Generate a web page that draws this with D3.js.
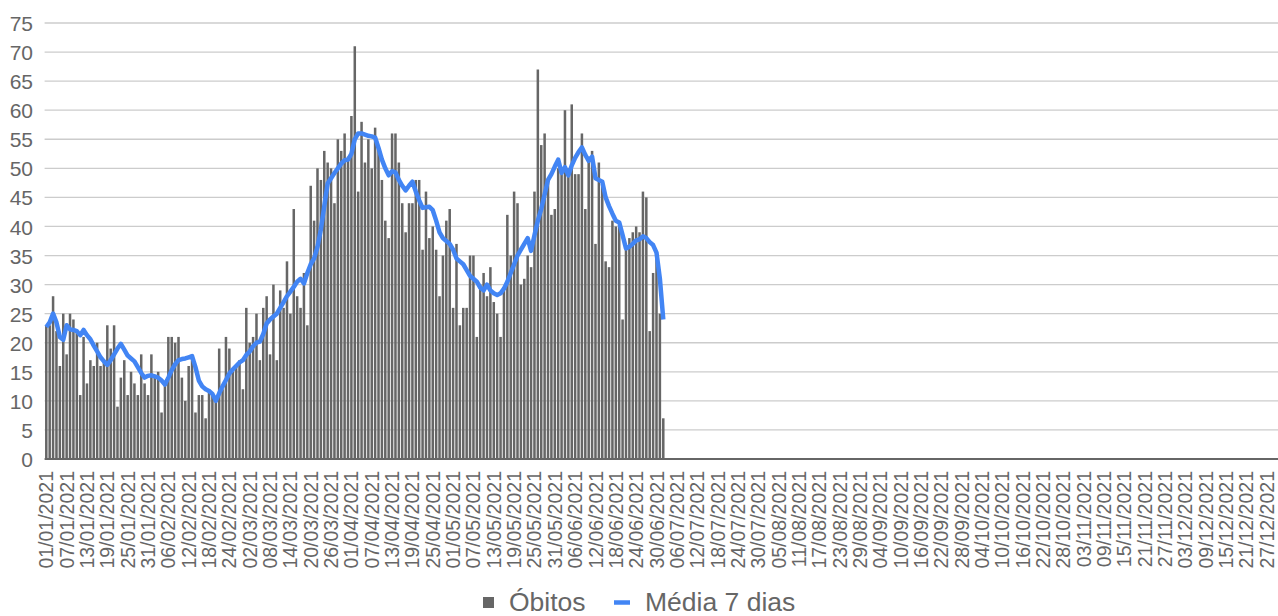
<!DOCTYPE html>
<html>
<head>
<meta charset="utf-8">
<script src="https://cdn.jsdelivr.net/npm/d3@7"></script>
<style>
  html, body { margin: 0; padding: 0; background: #ffffff; }
  svg { display: block; }
  text { font-family: "Liberation Sans", Arial, sans-serif; fill: #666666; }
</style>
</head>
<body>
<svg id="chart" width="1278" height="616"></svg>
<script>
// ---- data ----
const startDate = new Date(2021, 0, 1);
const dayCount = 365;

const deaths = [
  23, 23, 28, 22, 16, 25, 18, 25, 24, 22, 11, 21, 13, 17, 16, 20, 16, 17, 23, 19, 23, 9, 14, 17, 11, 15, 13, 11, 18, 13, 11,
  18, 14, 15, 8, 13, 21, 21, 20, 21, 14, 10, 16, 18, 8, 11, 11, 7, 12, 11, 10, 19, 12, 21, 19, 15, 16, 17, 12,
  26, 20, 21, 25, 17, 26, 28, 18, 30, 17, 29, 26, 34, 25, 43, 28, 26, 32, 23, 47, 41, 50, 48, 53, 51, 50, 44, 55, 53, 56, 52,
  59, 71, 46, 58, 51, 55, 50, 57, 53, 48, 41, 38, 56, 56, 51, 44, 39, 44, 44, 48, 48, 36, 46, 38, 40, 36, 28, 35, 41, 43,
  26, 37, 23, 26, 26, 35, 35, 21, 30, 32, 28, 33, 27, 25, 21, 29, 42, 35, 46, 44, 30, 31, 35, 33, 46, 67, 54, 56, 48, 42, 43,
  50, 49, 60, 50, 61, 49, 49, 56, 43, 52, 53, 37, 51, 48, 34, 33, 41, 40, 40, 24, 36, 38, 39, 40, 39, 46, 45, 22, 32, 35,
  25, 7
];

const avg7 = [
  22.7, 23.5, 25, 23.5, 21, 20.5, 23, 22.3, 22.2, 22, 21.3, 22.2, 21.3, 20.6, 19.5, 18.5, 17.5, 16.8, 16.2, 17, 18, 19, 19.8, 18.8, 17.8, 17.3, 16.8, 15.8, 14.8, 14, 14.3,
  14.4, 14.2, 14, 13.5, 12.8, 14, 15.3, 16.3, 17, 17.2, 17.3, 17.5, 17.7, 15.8, 13.5, 12.5, 12, 11.7, 11.2, 10, 11.3, 12.5, 13.6, 14.7, 15.4, 16, 16.6, 17,
  17.9, 18.5, 19.4, 20, 20.2, 21.5, 23.3, 24, 24.5, 25, 26, 27, 28, 28.8, 29.6, 30.5, 31, 30.2, 32, 33.5, 34.5, 36.5, 39.5, 43.5, 47.4, 48.3, 49.2, 50, 50.8, 51.4, 51.5,
  52.5, 55, 56, 56, 55.8, 55.6, 55.5, 55.3, 53.5, 51.5, 50, 48.8, 49.5, 49.3, 48, 47, 46.2, 47, 47.7, 46, 44.5, 43.2, 43.3, 43.4, 42.8, 41, 39, 38, 37.5, 37,
  36, 34.5, 34, 33.5, 32.5, 31.5, 31, 30.5, 29.5, 29, 30, 29, 28.5, 28.2, 28.5, 29.3, 30.5, 32, 33.5, 35, 36, 37, 38, 35.8, 38.5, 41, 43, 45.5, 48, 49, 50.3,
  51.5, 49.2, 50.2, 48.8, 50.5, 51.8, 52.8, 53.6, 52.3, 51.3, 52, 48.3, 48, 47.7, 45, 43.5, 42.2, 41, 40.7, 38.5, 36.2, 36.5, 37, 37.6, 37.8, 38.3, 38, 37.3, 36.8, 35.5,
  31, 24
];

const yTicks = [0, 5, 10, 15, 20, 25, 30, 35, 40, 45, 50, 55, 60, 65, 70, 75];

const xTickLabels = [
  "01/01/2021", "07/01/2021", "13/01/2021", "19/01/2021", "25/01/2021", "31/01/2021",
  "06/02/2021", "12/02/2021", "18/02/2021", "24/02/2021",
  "02/03/2021", "08/03/2021", "14/03/2021", "20/03/2021", "26/03/2021",
  "01/04/2021", "07/04/2021", "13/04/2021", "19/04/2021", "25/04/2021",
  "01/05/2021", "07/05/2021", "13/05/2021", "19/05/2021", "25/05/2021", "31/05/2021",
  "06/06/2021", "12/06/2021", "18/06/2021", "24/06/2021", "30/06/2021",
  "06/07/2021", "12/07/2021", "18/07/2021", "24/07/2021", "30/07/2021",
  "05/08/2021", "11/08/2021", "17/08/2021", "23/08/2021", "29/08/2021",
  "04/09/2021", "10/09/2021", "16/09/2021", "22/09/2021", "28/09/2021",
  "04/10/2021", "10/10/2021", "16/10/2021", "22/10/2021", "28/10/2021",
  "03/11/2021", "09/11/2021", "15/11/2021", "21/11/2021", "27/11/2021",
  "03/12/2021", "09/12/2021", "15/12/2021", "21/12/2021", "27/12/2021"
];
const tickStep = 6;

const legendLabels = ["Óbitos", "Média 7 dias"];
const barColor = "#666666";
const lineColor = "#4285f4";

// ---- layout ----
const plotLeft = 44.6, dayWidth = 3.39;
const plotRight = plotLeft + dayCount * dayWidth;
const plotTop = 23, plotBottom = 459;

const days = d3.timeDay.range(startDate, d3.timeDay.offset(startDate, dayCount));

const svg = d3.select("#chart");

const x = d3.scaleBand().domain(days).range([plotLeft, plotRight]).padding(0);
const bw = x.bandwidth();
const y = d3.scaleLinear().domain([0, 75]).range([plotBottom, plotTop]);

// gridlines
svg.append("g")
  .selectAll("line")
  .data(yTicks.filter(v => v > 0))
  .join("line")
  .attr("x1", plotLeft).attr("x2", 1278)
  .attr("y1", d => y(d)).attr("y2", d => y(d))
  .attr("stroke", "#cccccc").attr("stroke-width", 1.3);

// y axis labels
const yAxis = svg.append("g")
  .attr("transform", `translate(${33},0)`)
  .call(d3.axisLeft(y).tickValues(yTicks).tickSize(0).tickPadding(0));
yAxis.select(".domain").remove();
yAxis.selectAll("text")
  .style("font-size", "21px")
  .style("font-family", '"Liberation Sans", Arial, sans-serif')
  .attr("fill", "#666666")
  .attr("dy", "0.36em");

// bars
svg.append("g")
  .selectAll("rect")
  .data(deaths)
  .join("rect")
  .attr("x", (d, i) => x(days[i]) + bw * 0.13)
  .attr("width", bw * 0.74)
  .attr("y", d => y(d))
  .attr("height", d => y(0) - y(d))
  .attr("fill", barColor);

// baseline
svg.append("line")
  .attr("x1", plotLeft).attr("x2", 1278)
  .attr("y1", y(0)).attr("y2", y(0))
  .attr("stroke", "#666666").attr("stroke-width", 2);

// x axis
const xTickDays = days.filter((d, i) => i % tickStep === 0);
const xAxis = svg.append("g")
  .attr("transform", `translate(0,${plotBottom})`)
  .call(d3.axisBottom(x).tickValues(xTickDays).tickSize(0)
    .tickFormat((d, i) => xTickLabels[i]));
xAxis.select(".domain").remove();
xAxis.selectAll("text")
  .style("font-size", "19.5px")
  .style("font-family", '"Liberation Sans", Arial, sans-serif')
  .attr("fill", "#666666")
  .attr("text-anchor", "end")
  .attr("transform", "rotate(-90)")
  .attr("x", -12)
  .attr("y", 0)
  .attr("dy", "0.36em");

// moving average line
const line = d3.line()
  .x((d, i) => x(days[i]) + bw / 2)
  .y(d => y(d));
svg.append("path")
  .datum(avg7)
  .attr("d", line)
  .attr("fill", "none")
  .attr("stroke", lineColor)
  .attr("stroke-width", 4.5)
  .attr("stroke-linejoin", "round")
  .attr("stroke-linecap", "butt");

// legend
const lg = svg.append("g");
lg.append("rect").attr("x", 483).attr("y", 597).attr("width", 11).attr("height", 11).attr("fill", barColor);
lg.append("text").attr("x", 509).attr("y", 610.5)
  .style("font-size", "26.5px").text(legendLabels[0]);
lg.append("line").attr("x1", 614).attr("x2", 630).attr("y1", 602.5).attr("y2", 602.5)
  .attr("stroke", lineColor).attr("stroke-width", 4.5);
lg.append("text").attr("x", 645).attr("y", 610.5)
  .style("font-size", "26.5px").text(legendLabels[1]);
</script>
</body>
</html>
